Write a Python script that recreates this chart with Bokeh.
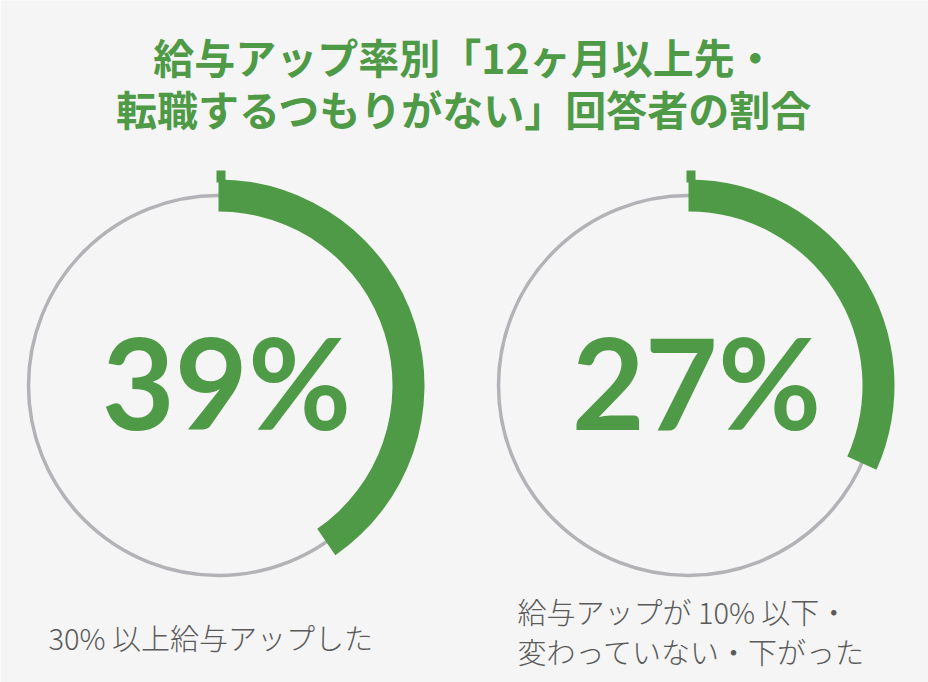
import math
from bokeh.plotting import figure
from bokeh.models import Range1d
from bokeh.core.properties import value
from bokeh.embed import file_html
from bokeh.resources import INLINE

# ---- data ----
title_lines = ["給与アップ率別「12ヶ月以上先・", "転職するつもりがない」回答者の割合"]
groups = ["30% 以上給与アップした", "給与アップが 10% 以下・\n変わっていない・下がった"]
share_pct = [39, 27]              # printed percentages
arc_drawn_pct = [40.4, 31.7]      # arc extents as drawn in the reference
value_labels = [f"{v}%" for v in share_pct]

# ---- style / layout ----
GREEN = "#4f9a46"
GRAY_RING = "#b3b3b7"
TEXT_GRAY = "#5a5a5a"
BG = "#f5f5f5"

W, H = 928, 682
def px(x):  # image x -> data x
    return x
def py(y):  # image y -> data y (y up)
    return H - y

p = figure(width=W, height=H, output_backend="svg", toolbar_location=None,
           x_range=Range1d(0, W), y_range=Range1d(0, H),
           match_aspect=False, min_border=0)
p.axis.visible = False
p.grid.visible = False
p.outline_line_color = None
p.background_fill_color = BG
p.border_fill_color = BG

centers_x = [218, 688]
center_y = 385
R_RING = 190
R_IN, R_OUT = 174, 206

for i, pct in enumerate(arc_drawn_pct):
    cx, cy = px(centers_x[i]), py(center_y)
    p.circle(x=[cx], y=[cy], radius=R_RING, fill_color=None,
             line_color=GRAY_RING, line_width=3.5)
    start = math.pi / 2
    end = math.pi / 2 - pct / 100 * 2 * math.pi
    p.annular_wedge(x=[cx], y=[cy], inner_radius=R_IN, outer_radius=R_OUT,
                    start_angle=start, end_angle=end, direction="clock",
                    fill_color=GREEN, line_color=None)
    # small start tab
    p.quad(left=[cx - 2], right=[cx + 7], top=[cy + 215], bottom=[cy + 203],
           fill_color=GREEN, line_color=None)
    # big value
    p.text(x=[cx + 8], y=[py(381)], text=[value_labels[i]],
           text_font=value("Lato"), text_font_style="bold",
           text_font_size="126px", text_color=GREEN,
           text_align="center", text_baseline="middle")

# title
for j, line in enumerate(title_lines):
    p.text(x=[px(464)], y=[py([55, 107][j])], text=[line],
           text_font=value("Noto Sans CJK JP"), text_font_style="bold",
           text_font_size="41px", text_color=GREEN,
           text_align="center", text_baseline="middle")

# bottom labels
label_font = value("Noto Sans CJK JP Light")
left_lines = groups[0].split("\n")
p.text(x=[px(48)], y=[py(636)], text=left_lines,
       text_font=label_font, text_font_size="29px", text_color=TEXT_GRAY,
       text_align="left", text_baseline="middle")
right_lines = groups[1].split("\n")
p.text(x=[px(517)] * len(right_lines), y=[py(610), py(650)], text=right_lines,
       text_font=label_font, text_font_size="29px", text_color=TEXT_GRAY,
       text_align="left", text_baseline="middle")

open("out.html", "w").write(file_html(p, INLINE))
